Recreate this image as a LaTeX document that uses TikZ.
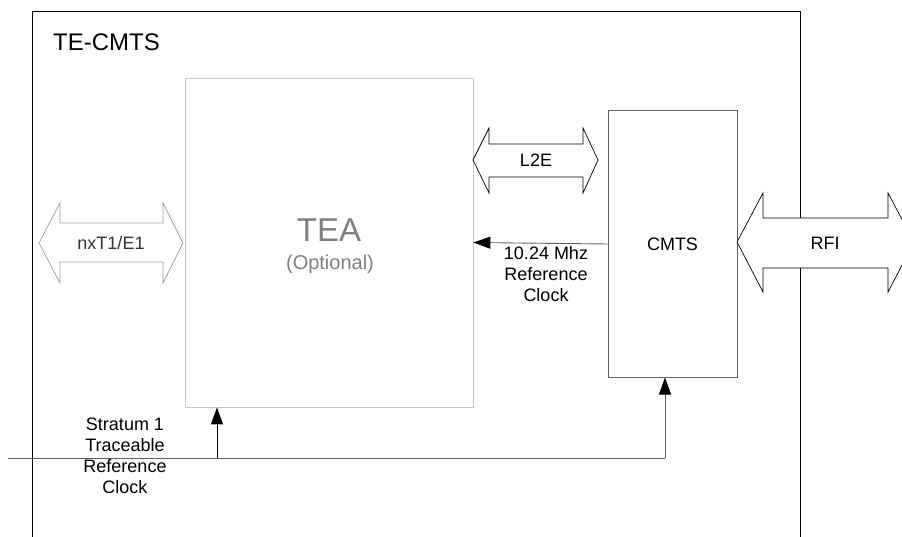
\documentclass[tikz,border=0pt]{standalone}
\usepackage{fontspec}
\setmainfont{Liberation Sans}
\usepackage{tikz}
\usetikzlibrary{arrows.meta,positioning}
\definecolor{boxgray}{RGB}{200,200,200}
\definecolor{teagray}{RGB}{128,128,128}
\definecolor{linegray}{RGB}{96,96,96}
\definecolor{pipegray}{RGB}{160,160,160}
\tikzset{
  block/.style={draw,rectangle,inner sep=0pt},
  pipe/.style={draw,fill=white,line width=0.7pt},
  lbl/.style={inner sep=0pt,font=\fontsize{18}{21}\selectfont},
  clk/.style={-{Triangle[length=17pt,width=12pt,black]},line width=0.9pt}
}
\begin{document}
\begin{tikzpicture}[x=1pt,y=-1pt]
\useasboundingbox (0,0) rectangle (902,537);
% outer frame, open at the bottom
\draw[line width=1pt] (32,537) -- (32,12) -- (800,12) -- (800,537);
\node[lbl,anchor=base west,font=\fontsize{24}{28}\selectfont] (title) at (53,51) {TE-CMTS};

% blocks
\node[block,draw=boxgray,line width=0.8pt,minimum width=288pt,minimum height=329pt] (tea) at (329,242.5) {};
\node[lbl,text=teagray,font=\fontsize{33}{38}\selectfont] (teatxt) at (329,230) {TEA};
\node[lbl,text=teagray,font=\fontsize{20}{24}\selectfont] (teaopt) at (330,264) {(Optional)};
\node[block,draw=linegray,line width=1pt,minimum width=129pt,minimum height=266pt] (cmts) at (672.5,244) {};
\node[lbl] (cmtstxt) at (cmts) {CMTS};

% interfaces
\draw[pipe,draw=pipegray] (39,243) -- (60,203) -- (60,223) -- (163,223) -- (163,203) -- (183,243)
  -- (163,283) -- (163,262) -- (60,262) -- (60,283) -- cycle;
\node[lbl,text=black!80] (t1e1) at (111,243) {nxT1/E1};
\draw[pipe] (473,160) -- (489,128) -- (489,144) -- (583,144) -- (583,128) -- (598,160)
  -- (583,193) -- (583,177) -- (489,177) -- (489,193) -- cycle;
\node[lbl] (l2e) at (536,160) {L2E};
\draw[pipe] (737,242) -- (763,193) -- (763,218) -- (888,218) -- (888,193) -- (914,242)
  -- (888,292) -- (888,268) -- (763,268) -- (763,292) -- cycle;
\node[lbl] (rfi) at (825,243) {RFI};

% clocks
\draw[clk,draw=linegray] (cmts.west) -- (tea.east);
\node[lbl,align=center,anchor=north] (refclk) at (546,246) {10.24 Mhz\\Reference\\Clock};
\coordinate (src) at (8,458);
\coordinate (tap) at (217,458);
\coordinate (corner) at (665,458);
\draw[linegray,line width=0.9pt] (src) -- (corner);
\draw[clk,draw=linegray] (corner) -- (corner |- cmts.south);
\draw[clk,draw=black] (tap) -- (tap |- tea.south);
\node[lbl,align=center,anchor=north] (stratum) at (125,418) {Stratum 1\\Traceable\\Reference\\Clock};
\end{tikzpicture}
\end{document}
